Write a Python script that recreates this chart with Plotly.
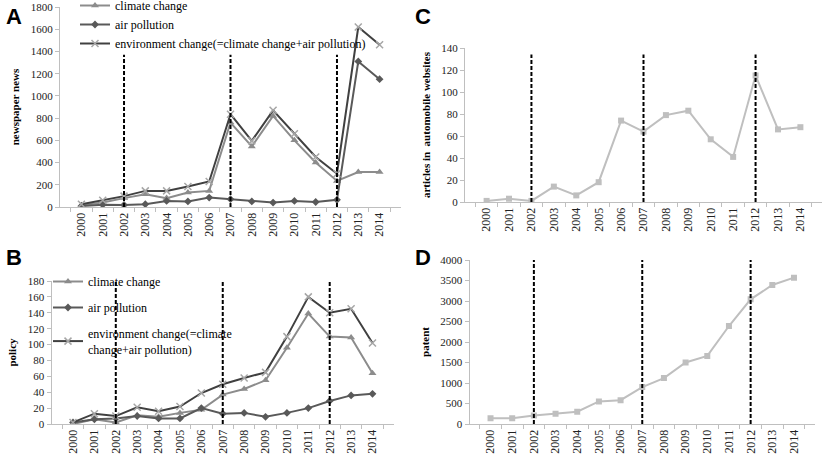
import plotly.graph_objects as go

years = [str(y) for y in range(2000, 2015)]
break_years = ["2002", "2007", "2012"]

# A - newspaper news
news_climate = [15, 40, 80, 115, 80, 130, 145, 760, 545, 820, 600, 400, 235, 315, 315]
news_air = [10, 20, 18, 25, 55, 50, 85, 70, 50, 40, 55, 45, 65, 1310, 1150]
news_env = [25, 60, 98, 145, 145, 185, 230, 835, 595, 870, 660, 450, 300, 1620, 1460]

# B - policy
policy_climate = [0, 6, 2, 11, 9, 14, 18, 37, 44, 55, 96, 139, 110, 109, 64]
policy_air = [2, 6, 7, 10, 7, 7, 20, 13, 14, 9, 14, 20, 29, 36, 38]
policy_env = [2, 13, 10, 21, 16, 22, 39, 50, 58, 65, 110, 160, 140, 145, 102]

# C - articles in automobile websites
articles = [1, 3, 1, 14, 6, 18, 74, 64, 79, 83, 57, 41, 115, 66, 68]

# D - patent
patents = [140, 140, 210, 250, 300, 550, 580, 900, 1120, 1500, 1660, 2390, 3040, 3390, 3570]

W, H = 823, 455
SERIF = "Liberation Serif"
C_CLIMATE = "#8c8c8c"
C_AIR = "#595959"
C_ENV = "#404040"
C_LIGHT = "#bfbfbf"

fig = go.Figure()


def add_three(xa, ya, leg, climate, air, env, env_name):
    fig.add_trace(go.Scatter(
        x=years, y=climate, xaxis=xa, yaxis=ya, legend=leg,
        name="climate change", legendgroup=leg + "c",
        mode="lines+markers",
        line=dict(color=C_CLIMATE, width=2),
        marker=dict(symbol="triangle-up", size=7, color=C_CLIMATE),
    ))
    fig.add_trace(go.Scatter(
        x=years, y=air, xaxis=xa, yaxis=ya, legend=leg,
        name="air pollution", legendgroup=leg + "a",
        mode="lines+markers",
        line=dict(color=C_AIR, width=2),
        marker=dict(symbol="diamond", size=6, color=C_AIR),
    ))
    fig.add_trace(go.Scatter(
        x=years, y=env, xaxis=xa, yaxis=ya, legend=leg,
        name=env_name, legendgroup=leg + "e",
        mode="lines+markers",
        line=dict(color=C_ENV, width=2),
        marker=dict(symbol="x-thin", size=7, line=dict(color="#a6a6a6", width=1.5)),
    ))


add_three("x", "y", "legend", news_climate, news_air, news_env,
          "environment change(=climate change+air pollution)")
add_three("x2", "y2", "legend2", policy_climate, policy_air, policy_env,
          "environment change(=climate<br>change+air pollution)")

for xa, ya, vals in [("x3", "y3", articles), ("x4", "y4", patents)]:
    fig.add_trace(go.Scatter(
        x=years, y=vals, xaxis=xa, yaxis=ya, showlegend=False,
        mode="lines+markers",
        line=dict(color=C_LIGHT, width=2),
        marker=dict(symbol="square", size=6, color=C_LIGHT),
    ))

# dashed break lines (top in data units per panel)
for xref, yref, top in [("x", "y", 1370), ("x2", "y2", 183), ("x3", "y3", 134), ("x4", "y4", 4040)]:
    for yr in break_years:
        i = years.index(yr)
        fig.add_shape(type="line", xref=xref, yref=yref, x0=i, x1=i, y0=0, y1=top,
                      line=dict(color="black", width=2, dash="4px,2px"), layer="above")


def xdom(a, b):
    return [a / W, b / W]


def ydom(top, bottom):
    return [1 - bottom / H, 1 - top / H]


xcommon = dict(type="category", showline=True, linecolor=C_LIGHT, linewidth=1,
               ticks="outside", tickson="boundaries", ticklen=4, tickcolor=C_LIGHT,
               tickangle=-90, tickfont=dict(family=SERIF, size=12, color="#222"),
               showgrid=False, zeroline=False, automargin=False)
ycommon = dict(showline=True, linecolor=C_LIGHT, linewidth=1, ticks="outside",
               ticklen=4, tickcolor=C_LIGHT, showgrid=False, zeroline=False,
               automargin=False, tickfont=dict(family=SERIF, size=11, color="#222"))
ytitle_font = dict(family=SERIF, size=11, color="black")

fig.update_layout(
    template="none",
    width=W, height=H,
    margin=dict(l=0, r=0, t=0, b=0, pad=0, autoexpand=False),
    plot_bgcolor="white", paper_bgcolor="white",
    font=dict(family=SERIF, size=12, color="black"),
    xaxis=dict(domain=xdom(60, 401), anchor="y", **xcommon),
    yaxis=dict(domain=ydom(7, 207), anchor="x", range=[0, 1800], dtick=200,
               title=dict(text="<b>newspaper news</b>", font=ytitle_font, standoff=8), **ycommon),
    xaxis2=dict(domain=xdom(51.5, 394), anchor="y2", **xcommon),
    yaxis2=dict(domain=ydom(281, 424), anchor="x2", range=[0, 180], dtick=20,
                title=dict(text="<b>policy</b>", font=ytitle_font, standoff=8), **ycommon),
    xaxis3=dict(domain=xdom(465, 822), anchor="y3", **xcommon),
    yaxis3=dict(domain=ydom(48, 202), anchor="x3", range=[0, 140], dtick=20,
                title=dict(text="<b>articles in  automobile websites</b>", font=ytitle_font, standoff=8),
                **ycommon),
    xaxis4=dict(domain=xdom(469.5, 815), anchor="y4", **xcommon),
    yaxis4=dict(domain=ydom(260, 424), anchor="x4", range=[0, 4000], dtick=500,
                title=dict(text="<b>patent</b>", font=ytitle_font, standoff=8), **ycommon),
    legend=dict(x=75 / W, y=1 + 9 / H, xanchor="left", yanchor="top",
                bgcolor="rgba(0,0,0,0)", font=dict(family=SERIF, size=12),
                traceorder="grouped", tracegroupgap=0, itemwidth=30),
    legend2=dict(x=48 / W, y=1 - 267 / H, xanchor="left", yanchor="top",
                 bgcolor="rgba(0,0,0,0)", font=dict(family=SERIF, size=12),
                 traceorder="grouped", tracegroupgap=7, itemwidth=30),
)

for letter, px, py in [("A", 4, 2), ("B", 4, 243), ("C", 413, 2), ("D", 413, 243)]:
    fig.add_annotation(text="<b>" + letter + "</b>", xref="paper", yref="paper",
                       x=px / W, y=1 - py / H, xanchor="left", yanchor="top",
                       showarrow=False, font=dict(family="Liberation Sans", size=22, color="black"))

# drop the default page margin so the figure sits at the top-left corner
fig.write_html("out.html", config={"displayModeBar": False},
               post_script="document.body.style.margin = '0';")
